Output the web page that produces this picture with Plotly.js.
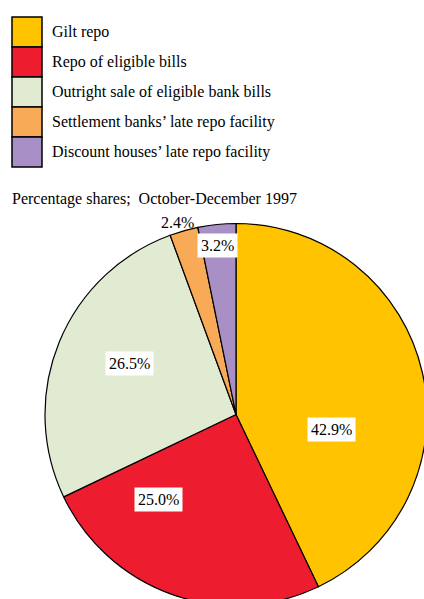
<!DOCTYPE html>
<html>
<head>
<meta charset="utf-8">
<script src="https://cdn.plot.ly/plotly-3.0.1.min.js"></script>
<style>html,body{margin:0;padding:0;background:#fff;overflow:hidden;width:424px;height:599px;}#chart{width:430px;height:606px;}</style>
</head>
<body>
<div id="chart"></div>
<script>
// Data
var categories = [
  "Gilt repo",
  "Repo of eligible bills",
  "Outright sale of eligible bank bills",
  "Settlement banks\u2019 late repo facility",
  "Discount houses\u2019 late repo facility"
];
var shares = [42.9, 25.0, 26.5, 2.4, 3.2];
var valueLabels = ["42.9%", "25.0%", "26.5%", "2.4%", "3.2%"];
var colors = ["#FFC300", "#EE1C2F", "#E0EBD2", "#F8AA57", "#A88FC5"];
var subtitle = "Percentage shares;  October-December 1997";

var W = 430, H = 606;
function px(x){ return x / W; }
function py(y){ return 1 - y / H; }

// label placement (pixels) per slice, white box where inside
var labelPos = [[331, 429], [158, 499], [129, 363], [177, 222], [217, 245]];
var labelBox = [true, true, true, false, true];

var font = {family: "Liberation Serif, Times New Roman, serif", size: 16, color: "#000"};

var trace = {
  type: "pie",
  labels: categories,
  values: shares,
  sort: false,
  direction: "clockwise",
  rotation: 0,
  marker: {colors: colors, line: {color: "#000", width: 1.2}},
  textinfo: "none",
  hoverinfo: "none",
  showlegend: false,
  domain: {x: [45 / W, 427 / W], y: [0, 1 - 223 / H]}
};

var shapes = [];
var annotations = [];
// legend built from categories/colors
categories.forEach(function(c, i){
  var top = 17 + i * 30;
  shapes.push({type: "rect", xref: "paper", yref: "paper",
    x0: px(12), x1: px(42), y0: py(top + 30), y1: py(top),
    fillcolor: colors[i], line: {color: "#000", width: 1.5}});
  annotations.push({xref: "paper", yref: "paper", x: px(50), y: py(top + 15),
    xanchor: "left", yanchor: "middle", showarrow: false, text: c, font: font});
});

annotations.push({xref: "paper", yref: "paper", x: px(10), y: py(199),
  xanchor: "left", yanchor: "middle", showarrow: false, text: subtitle, font: font});

valueLabels.forEach(function(t, i){
  annotations.push({xref: "paper", yref: "paper", x: px(labelPos[i][0]), y: py(labelPos[i][1]),
    xanchor: "center", yanchor: "middle", showarrow: false, text: t, font: font,
    bgcolor: labelBox[i] ? "#fff" : "rgba(0,0,0,0)", borderpad: 3});
});

var layout = {
  width: W, height: H,
  margin: {l: 0, r: 0, t: 0, b: 0},
  paper_bgcolor: "#fff",
  plot_bgcolor: "#fff",
  showlegend: false,
  shapes: shapes,
  annotations: annotations
};

Plotly.newPlot("chart", [trace], layout, {displayModeBar: false, staticPlot: true});
</script>
</body>
</html>
